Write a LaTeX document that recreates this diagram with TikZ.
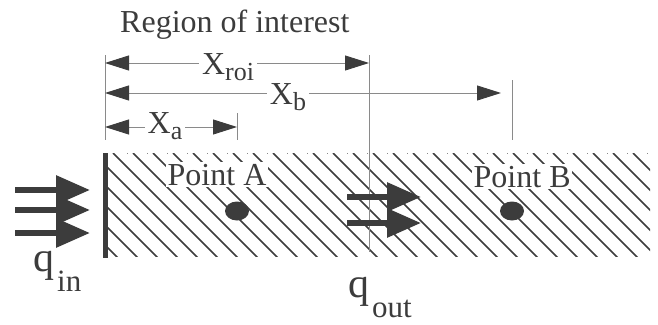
\documentclass[tikz,border=0pt]{standalone}
\usepackage{fontspec}
\setmainfont{Liberation Serif}
\usetikzlibrary{arrows.meta,positioning,shapes.geometric}
\definecolor{ink}{HTML}{3C3C3C}
\newcommand{\dimlabel}[2]{{\fontsize{32}{32}\selectfont #1}\raisebox{-6pt}{\fontsize{26}{26}\selectfont #2}}
\newcommand{\fluxlabel}[2]{{\fontsize{42}{42}\selectfont #1}\hspace{3pt}\raisebox{-20pt}{\fontsize{31}{31}\selectfont #2}}

\begin{document}
\begin{tikzpicture}[
  x=1pt, y=-1pt,
  txt/.style={
    text=ink,
    inner sep=0pt,
    font=\fontsize{32}{32}\selectfont
  },
  dimtxt/.style={
    text=ink,
    fill=white,
    inner xsep=3pt,
    inner ysep=0pt,
    anchor=base
  },
  pointtxt/.style={
    text=ink,
    fill=white,
    inner sep=1.5pt,
    anchor=base west,
    font=\fontsize{32}{32}\selectfont
  },
  dot/.style={
    ellipse,
    fill=ink,
    minimum width=24pt,
    minimum height=19pt,
    inner sep=0pt
  },
  guide/.style={draw=ink!60, line width=0.9pt},
  dimarr/.style={draw=ink!60, line width=0.9pt,
    {Triangle[length=24pt,width=15pt,fill=ink,color=ink]}-{Triangle[length=24pt,width=15pt,fill=ink,color=ink]}},
  flux/.style={draw=ink, line width=6pt, -{Triangle[length=34pt,width=28pt]}},
  hatch/.style={draw=ink, line width=1.7pt},
  wall/.style={draw=ink, line width=5pt}
]
\useasboundingbox (0,0) rectangle (658,324);

\node[txt, anchor=base west] (title) at (120,32) {Region of interest};

\begin{scope}
  \clip (105,153) rectangle (650,256);
  \foreach \k in {-6,...,28}
    \draw[hatch] (93+20*\k,153) -- ++(112,112);
\end{scope}
\draw[draw=ink!60, line width=1pt, dash pattern=on 1pt off 19pt] (107,153) -- (650,153);

\draw[guide] (105,55) -- (105,140);
\draw[guide] (369,55) -- (369,252);
\draw[guide] (512,80) -- (512,140);
\draw[guide] (237,113) -- (237,140);

\coordinate (roiL) at (105,63);
\coordinate (roiR) at (369,63);
\coordinate (bL) at (105,93);
\coordinate (bR) at (501,93);
\coordinate (aL) at (105,127);
\coordinate (aR) at (237,127);

\draw[dimarr] (roiL) -- (roiR);
\draw[dimarr] (bL) -- (bR);
\draw[dimarr] (aL) -- (aR);

\node[dimtxt] (xroi) at (228,74) {\dimlabel{X}{roi}};
\node[dimtxt] (xb) at (288,104) {\dimlabel{X}{b}};
\node[dimtxt] (xa) at (165,133) {\dimlabel{X}{a}};

\draw[wall] (105,153) -- (105,258);

\node[pointtxt] (ptA) at (166,185) {Point A};
\node[pointtxt] (ptB) at (472,187) {Point B};
\node[dot] (dotA) at (237,211) {};
\node[dot] (dotB) at (512,211) {};

\coordinate (in1s) at (15,190);
\coordinate (in1e) at (90,190);
\coordinate (in2s) at (15,210);
\coordinate (in2e) at (90,210);
\coordinate (in3s) at (15,233);
\coordinate (in3e) at (90,233);
\coordinate (out1s) at (347,197);
\coordinate (out1e) at (421,197);
\coordinate (out2s) at (347,223);
\coordinate (out2e) at (421,223);

\draw[flux] (in1s) -- (in1e);
\draw[flux] (in2s) -- (in2e);
\draw[flux] (in3s) -- (in3e);
\draw[flux] (out1s) -- (out1e);
\draw[flux] (out2s) -- (out2e);

\node[txt, anchor=base west] (qin) at (33,271) {\fluxlabel{q}{in}};
\node[txt, anchor=base west] (qout) at (348,297) {\fluxlabel{q}{out}};
\end{tikzpicture}
\end{document}
